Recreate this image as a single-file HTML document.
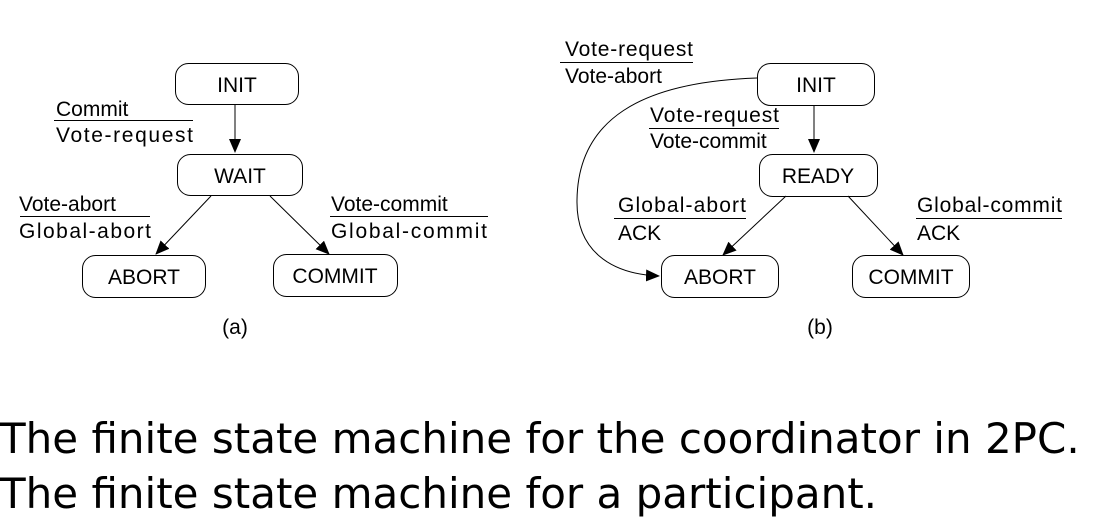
<!DOCTYPE html>
<html><head><meta charset="utf-8"><style>
html,body{margin:0;padding:0;background:#fff;width:1102px;height:532px;overflow:hidden}
.cap{position:absolute;left:0;font-family:"DejaVu Sans",sans-serif;font-size:42px;line-height:49px;color:#000;white-space:nowrap}
</style></head><body>
<svg width="1102" height="380" style="position:absolute;left:0;top:0" xmlns="http://www.w3.org/2000/svg">
<defs>
<marker id="ah" markerWidth="14" markerHeight="12" refX="13" refY="6" orient="auto" markerUnits="userSpaceOnUse">
<path d="M0,0 L14,6 L0,12 Z" fill="#000"/></marker>
</defs>
<g fill="#fff" stroke="#000" stroke-width="1">
<rect x="175.5" y="63.5" width="123" height="41" rx="13"/>
<rect x="177.5" y="154.5" width="125" height="41" rx="13"/>
<rect x="82.5" y="255.5" width="123" height="42" rx="13"/>
<rect x="273.5" y="254.5" width="124" height="42" rx="13"/>
<rect x="757.5" y="63.5" width="117" height="42" rx="13"/>
<rect x="759.5" y="154.5" width="118" height="42" rx="13"/>
<rect x="661.5" y="255.5" width="117" height="42" rx="13"/>
<rect x="852.5" y="255.5" width="117" height="42" rx="13"/>
</g>
<g stroke="#000" stroke-width="1" fill="none" marker-end="url(#ah)">
<line x1="235" y1="104" x2="235" y2="152"/>
<line x1="211" y1="196" x2="156" y2="254"/>
<line x1="270" y1="196" x2="329" y2="254"/>
<line x1="814" y1="105" x2="814" y2="152"/>
<line x1="786" y1="196" x2="723" y2="255"/>
<line x1="848" y1="196" x2="903" y2="255"/>
<path d="M757,78 C640,82 578,120 577,200 C576,250 610,274 659,276"/>
</g>
<g stroke="#000" stroke-width="1">
<line x1="54" y1="120.5" x2="193" y2="120.5"/>
<line x1="20" y1="216.5" x2="150" y2="216.5"/>
<line x1="330" y1="216.5" x2="488" y2="216.5"/>
<line x1="560" y1="62.5" x2="693" y2="62.5"/>
<line x1="649" y1="128.5" x2="779" y2="128.5"/>
<line x1="614" y1="218.5" x2="746" y2="218.5"/>
<line x1="916" y1="218.5" x2="1062" y2="218.5"/>
</g>
<g font-family="Liberation Sans, Arial, sans-serif" font-size="21" fill="#000">
<text x="237" y="92" text-anchor="middle">INIT</text>
<text x="240" y="183" text-anchor="middle">WAIT</text>
<text x="144" y="284" text-anchor="middle">ABORT</text>
<text x="335" y="283" text-anchor="middle">COMMIT</text>
<text x="816" y="92" text-anchor="middle">INIT</text>
<text x="818" y="183" text-anchor="middle">READY</text>
<text x="720" y="284" text-anchor="middle">ABORT</text>
<text x="911" y="284" text-anchor="middle">COMMIT</text>
<text x="56" y="116">Commit</text>
<text x="56" y="142" textLength="137">Vote-request</text>
<text x="19" y="211">Vote-abort</text>
<text x="19" y="238" textLength="132">Global-abort</text>
<text x="331" y="211">Vote-commit</text>
<text x="331" y="238" textLength="156">Global-commit</text>
<text x="565" y="56" textLength="128">Vote-request</text>
<text x="565" y="83">Vote-abort</text>
<text x="650" y="122" textLength="129">Vote-request</text>
<text x="650" y="148">Vote-commit</text>
<text x="618" y="212" textLength="128">Global-abort</text>
<text x="618" y="240">ACK</text>
<text x="917" y="212" textLength="145">Global-commit</text>
<text x="917" y="240">ACK</text>
<text x="235" y="334" text-anchor="middle">(a)</text>
<text x="820" y="334" text-anchor="middle">(b)</text>
</g>
</svg>
<div class="cap" style="top:414px">The finite state machine for the coordinator in 2PC.</div>
<div class="cap" style="top:469px">The finite state machine for a participant.</div>
</body></html>
